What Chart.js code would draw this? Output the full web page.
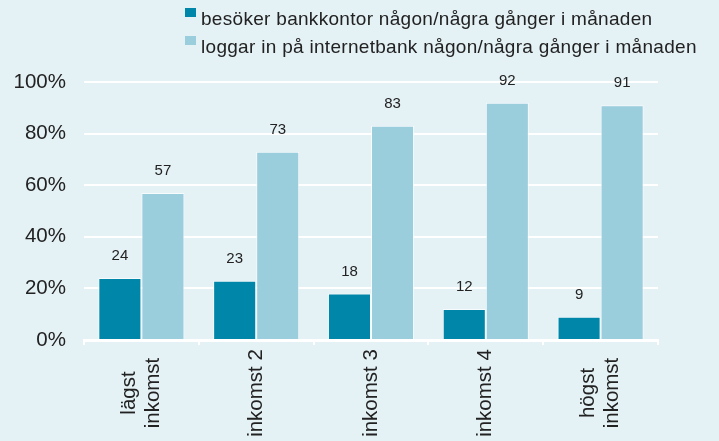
<!DOCTYPE html>
<html lang="sv">
<head>
<meta charset="utf-8">
<script src="https://cdn.jsdelivr.net/npm/chart.js@4/dist/chart.umd.min.js"></script>
<style>
  html, body { margin: 0; padding: 0; background: #e4f1f5; }
  #wrap { position: relative; width: 719px; height: 441px; overflow: hidden; }
  #legend { position: absolute; left: 185px; top: 5px; font: 19px "Liberation Sans", Arial, sans-serif; letter-spacing: 0.3px; color: #222; }
  #legend div { height: 28px; line-height: 28px; white-space: nowrap; }
  #legend span.box { display: inline-block; width: 11px; height: 9px; margin-right: 5px; vertical-align: 8px; }
</style>
</head>
<body>
<div id="wrap">
  <canvas id="chart" width="719" height="441"></canvas>
  <div id="legend"></div>
</div>
<script>
const categories = [["lägst", "inkomst"], ["inkomst 2"], ["inkomst 3"], ["inkomst 4"], ["högst", "inkomst"]];
const seriesNames = [
  "besöker bankkontor någon/några gånger i månaden",
  "loggar in på internetbank någon/några gånger i månaden"
];
const branchVisits = [24, 23, 18, 12, 9];
const netbankLogins = [57, 73, 83, 92, 91];
const yTicks = [0, 20, 40, 60, 80, 100];

const colors = ["#0086a8", "#9bcedc"];
const FONT = '"Liberation Sans", Arial, sans-serif';

// value labels above each bar
const valueLabels = {
  id: "valueLabels",
  afterDatasetsDraw(chart) {
    const c = chart.ctx;
    c.save();
    c.font = "15px " + FONT;
    c.fillStyle = "#222";
    c.textAlign = "center";
    c.textBaseline = "middle";
    chart.data.datasets.forEach((ds, i) => {
      chart.getDatasetMeta(i).data.forEach((bar, j) => {
        c.fillText(ds.data[j], bar.x, bar.y - 22);
      });
    });
    c.restore();
  }
};

// rotated category labels, centred in the band under the axis
const categoryLabels = {
  id: "categoryLabels",
  afterDraw(chart) {
    const c = chart.ctx;
    const x = chart.scales.x;
    const lh = 24;
    c.save();
    c.font = "20.5px " + FONT;
    c.fillStyle = "#222";
    c.textAlign = "center";
    c.textBaseline = "middle";
    categories.forEach((lines, i) => {
      const px = x.getPixelForTick(i);
      c.save();
      c.translate(px, 393);
      c.rotate(-Math.PI / 2);
      lines.forEach((t, k) => {
        c.fillText(t, 0, (k - (lines.length - 1) / 2) * lh);
      });
      c.restore();
    });
    c.restore();
  }
};

const chart = new Chart(document.getElementById("chart"), {
  type: "bar",
  data: {
    labels: categories,
    datasets: [
      { label: seriesNames[0], data: branchVisits, backgroundColor: colors[0] },
      { label: seriesNames[1], data: netbankLogins, backgroundColor: colors[1] }
    ].map(d => Object.assign(d, {
      borderColor: "rgba(255,255,255,0.7)",
      borderWidth: 1,
      categoryPercentage: 0.75,
      barPercentage: 1
    }))
  },
  options: {
    responsive: false,
    animation: false,
    layout: { padding: { left: 0, right: 61, top: 82, bottom: 0 } },
    plugins: {
      legend: { display: false },
      tooltip: { enabled: false }
    },
    scales: {
      x: {
        ticks: { display: false },
        grid: {
          offset: true,
          drawOnChartArea: false,
          drawTicks: true,
          tickLength: 5,
          color: "#ffffff",
          lineWidth: 2
        },
        border: { display: true, color: "#ffffff", width: 3 },
        afterFit(s) { s.height = 101; }
      },
      y: {
        min: 0,
        max: 100,
        afterBuildTicks(s) { s.ticks = yTicks.map(v => ({ value: v })); },
        ticks: {
          padding: 18,
          color: "#222",
          font: { family: FONT, size: 20.5 },
          callback: v => v + "%"
        },
        grid: { color: "#ffffff", lineWidth: 2, drawTicks: false },
        border: { display: false },
        afterFit(s) { s.width = 84; }
      }
    }
  },
  plugins: [valueLabels, categoryLabels]
});

// legend as plain text next to coloured squares
const legend = document.getElementById("legend");
seriesNames.forEach((name, i) => {
  const row = document.createElement("div");
  row.innerHTML = `<span class="box" style="background:${colors[i]}"></span>${name}`;
  legend.appendChild(row);
});
</script>
</body>
</html>
